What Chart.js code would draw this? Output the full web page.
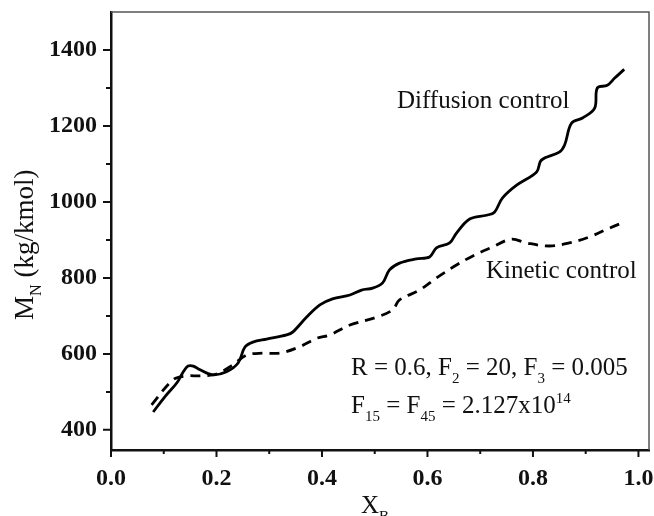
<!DOCTYPE html>
<html>
<head>
<meta charset="utf-8">
<script src="https://cdn.jsdelivr.net/npm/chart.js@4.4.0/dist/chart.umd.min.js"></script>
<style>
  html, body { margin: 0; padding: 0; background: #fff; }
  #wrap { width: 654px; height: 516px; }
</style>
</head>
<body>
<div id="wrap"><canvas id="grafico" width="654" height="516"></canvas></div>
<script>
// X_B values and M_N values
const difusionX = [0.080, 0.102, 0.125, 0.138, 0.146, 0.156, 0.169, 0.193, 0.219, 0.241, 0.254, 0.269, 0.295, 0.333, 0.345, 0.371, 0.396, 0.420, 0.453, 0.475, 0.496, 0.515, 0.528, 0.547, 0.579, 0.604, 0.617, 0.642, 0.655, 0.680, 0.712, 0.727, 0.742, 0.769, 0.807, 0.816, 0.850, 0.860, 0.873, 0.894, 0.917, 0.922, 0.941, 0.955, 0.973];
const difusionY = [447, 487, 524, 555, 568, 568, 558, 545, 553, 576, 618, 631, 639, 650, 658, 697, 729, 745, 755, 768, 773, 787, 821, 839, 850, 855, 879, 892, 918, 955, 965, 973, 1010, 1044, 1079, 1110, 1131, 1150, 1207, 1221, 1247, 1300, 1307, 1326, 1349];

const cineticoX = [0.077, 0.118, 0.144, 0.169, 0.200, 0.231, 0.257, 0.288, 0.320, 0.358, 0.390, 0.415, 0.453, 0.504, 0.534, 0.547, 0.585, 0.617, 0.655, 0.686, 0.723, 0.759, 0.788, 0.831, 0.869, 0.907, 0.945, 0.973];
const cineticoY = [466, 532, 542, 542, 547, 571, 597, 602, 602, 619, 641, 650, 676, 697, 716, 742, 768, 800, 834, 858, 881, 902, 892, 884, 892, 908, 931, 947];

const ticksX = [0.0, 0.2, 0.4, 0.6, 0.8, 1.0];
const ticksXMenores = [0.1, 0.3, 0.5, 0.7, 0.9];
const ticksY = [400, 600, 800, 1000, 1200, 1400];
const ticksYMenores = [500, 700, 900, 1100, 1300];

const SERIF = '"Liberation Serif", "DejaVu Serif", serif';

function puntos(xs, ys) {
    return xs.map((x, i) => ({ x: x, y: ys[i] }));
}

// draws a run of text pieces: [texto, tipo] where tipo is 'n', 'sub' or 'sup'
function textoConIndices(ctx, partes, x, y, size) {
    let cx = x;
    partes.forEach(p => {
        const s = p[1] === 'n' ? size : size * 0.6;
        let dy = 0;
        if (p[1] === 'sub') dy = size * 0.3;
        if (p[1] === 'sup') dy = -size * 0.42;
        ctx.font = s + 'px ' + SERIF;
        ctx.fillText(p[0], cx, y + dy);
        cx += ctx.measureText(p[0]).width;
    });
}

const extras = {
    id: 'extras',
    afterDraw(chart) {
        const ctx = chart.ctx;
        const a = chart.chartArea;
        const sx = chart.scales.x;
        const sy = chart.scales.y;
        ctx.save();

        // frame: top and right thinner
        ctx.strokeStyle = '#555';
        ctx.lineWidth = 1.5;
        ctx.beginPath();
        ctx.moveTo(a.left, a.top);
        ctx.lineTo(a.right, a.top);
        ctx.lineTo(a.right, a.bottom);
        ctx.stroke();

        // outward tick marks
        ctx.strokeStyle = '#111';
        ctx.lineWidth = 2;
        ctx.beginPath();
        ticksX.forEach(v => { const p = sx.getPixelForValue(v); ctx.moveTo(p, a.bottom); ctx.lineTo(p, a.bottom + 7); });
        ticksXMenores.forEach(v => { const p = sx.getPixelForValue(v); ctx.moveTo(p, a.bottom); ctx.lineTo(p, a.bottom + 4); });
        ticksY.forEach(v => { const p = sy.getPixelForValue(v); ctx.moveTo(a.left, p); ctx.lineTo(a.left - 8, p); });
        ticksYMenores.forEach(v => { const p = sy.getPixelForValue(v); ctx.moveTo(a.left, p); ctx.lineTo(a.left - 5, p); });
        ctx.stroke();

        ctx.fillStyle = '#111';
        ctx.textBaseline = 'alphabetic';
        ctx.textAlign = 'left';

        // curve labels
        ctx.font = '25px ' + SERIF;
        ctx.fillText('Diffusion control', 397, 108);
        ctx.fillText('Kinetic control', 486, 278);

        // parameters
        textoConIndices(ctx, [['R = 0.6, F', 'n'], ['2', 'sub'], [' = 20, F', 'n'], ['3', 'sub'], [' = 0.005', 'n']], 351, 375, 25);
        textoConIndices(ctx, [['F', 'n'], ['15', 'sub'], [' = F', 'n'], ['45', 'sub'], [' = 2.127x10', 'n'], ['14', 'sup']], 351, 413, 25);

        // x axis title
        textoConIndices(ctx, [['X', 'n'], ['B', 'sub']], 361, 513, 25);

        // y axis title, rotated
        ctx.translate(33, 320);
        ctx.rotate(-Math.PI / 2);
        textoConIndices(ctx, [['M', 'n'], ['N', 'sub'], [' (kg/kmol)', 'n']], 0, 0, 27);
        ctx.restore();
    }
};

new Chart(document.getElementById('grafico').getContext('2d'), {
    type: 'line',
    data: {
        datasets: [{
            label: 'Diffusion control',
            data: puntos(difusionX, difusionY),
            borderColor: '#000',
            borderWidth: 2.8,
            pointRadius: 0,
            tension: 0.35,
            fill: false
        }, {
            label: 'Kinetic control',
            data: puntos(cineticoX, cineticoY),
            borderColor: '#000',
            borderWidth: 2.8,
            borderDash: [10, 7],
            pointRadius: 0,
            tension: 0.35,
            fill: false
        }]
    },
    options: {
        responsive: false,
        animation: false,
        layout: { padding: { top: 12, right: 5, left: 0, bottom: 0 } },
        plugins: {
            legend: { display: false },
            tooltip: { enabled: false }
        },
        scales: {
            x: {
                type: 'linear',
                min: 0,
                max: 1.02,
                afterBuildTicks: scale => { scale.ticks = ticksX.map(v => ({ value: v })); },
                afterFit: scale => { scale.height = 66; scale.paddingLeft = 0; scale.paddingRight = 0; },
                grid: { display: false, drawTicks: false },
                border: { display: true, color: '#111', width: 2.5 },
                ticks: {
                    padding: 14,
                    color: '#111',
                    font: { family: SERIF, size: 24, weight: 'bold' },
                    callback: v => v.toFixed(1)
                }
            },
            y: {
                type: 'linear',
                min: 347,
                max: 1500,
                afterBuildTicks: scale => { scale.ticks = ticksY.map(v => ({ value: v })); },
                afterFit: scale => { scale.width = 111; scale.paddingTop = 0; scale.paddingBottom = 0; },
                grid: { display: false, drawTicks: false },
                border: { display: true, color: '#111', width: 2.5 },
                ticks: {
                    padding: 14,
                    color: '#111',
                    font: { family: SERIF, size: 24, weight: 'bold' },
                    callback: v => String(v)
                }
            }
        }
    },
    plugins: [extras]
});
</script>
</body>
</html>
